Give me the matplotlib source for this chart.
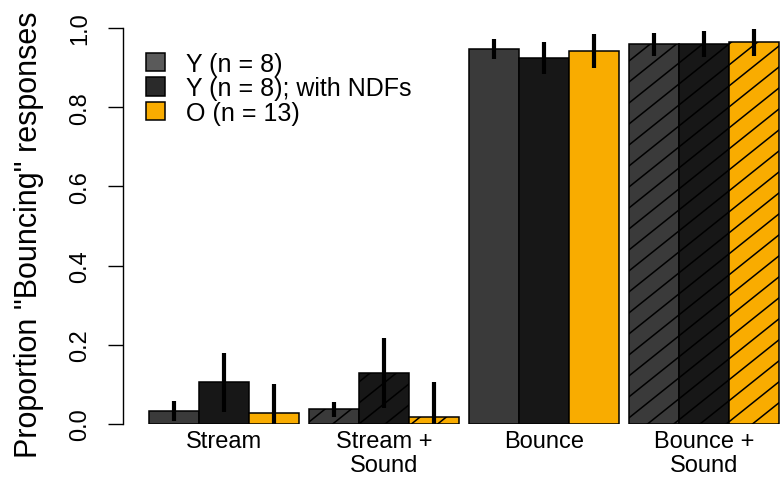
import numpy as np
import matplotlib
matplotlib.use("Agg")
from matplotlib import pyplot as plt
from matplotlib.patches import Patch

plt.rcParams['font.family'] = ['Liberation Sans', 'DejaVu Sans']

# data
conditions = ['Stream', 'Stream +\nSound', 'Bounce', 'Bounce +\nSound']
hatched = [False, True, False, True]
groups = ['Y (n = 8)', 'Y (n = 8); with NDFs', 'O (n = 13)']

y_mean = [0.033, 0.038, 0.947, 0.960]
ndf_mean = [0.106, 0.130, 0.924, 0.960]
o_mean = [0.028, 0.018, 0.942, 0.965]

y_lo = [0.007, 0.018, 0.922, 0.930]
y_hi = [0.057, 0.055, 0.972, 0.987]
ndf_lo = [0.030, 0.040, 0.884, 0.927]
ndf_hi = [0.180, 0.217, 0.965, 0.992]
o_lo = [0.0, 0.0, 0.900, 0.930]
o_hi = [0.100, 0.105, 0.985, 0.997]

bar_cols = ['#3a3a3a', '#171717', '#F9AC00']
leg_cols = ['#5a5a5a', '#2a2a2a', '#F9AC00']

means = [y_mean, ndf_mean, o_mean]
los = [y_lo, ndf_lo, o_lo]
his = [y_hi, ndf_hi, o_hi]

fig = plt.figure(figsize=(7.84, 4.85), dpi=100)
ax = fig.add_axes([123/784, 60/485, (784-123)/784, 396/485])

step = 3.2
slope = 0.101   # hatch slope (data y per bar width)
spacing = 0.053  # vertical spacing of hatch lines

for g in range(len(conditions)):
    for j in range(3):
        left = g*step + j
        h = means[j][g]
        bars = ax.bar(left, h, width=1.0, align='edge', color=bar_cols[j],
                      edgecolor='black', linewidth=1.1, zorder=2)
        if hatched[g]:
            rect = bars[0]
            xs = np.array([left, left + 1])
            c0 = np.floor((-slope*(left+1)) / spacing) * spacing
            for c in np.arange(c0, h - slope*left + spacing, spacing):
                ln, = ax.plot(xs, slope*xs + c, color='black', lw=1.1, zorder=3)
                ln.set_clip_path(rect)
        ax.plot([left + 0.5, left + 0.5], [los[j][g], his[j][g]], color='black',
                lw=3, solid_capstyle='butt', zorder=4, clip_on=False)

ax.set_xlim(-0.52, 12.7)
ax.set_ylim(0, 1)
for s in ['top', 'right', 'bottom']:
    ax.spines[s].set_visible(False)
ax.spines['left'].set_bounds(0, 1)
ax.spines['left'].set_linewidth(1.0)

ax.set_yticks([0, 0.2, 0.4, 0.6, 0.8, 1.0])
ax.set_yticklabels(['0.0', '0.2', '0.4', '0.6', '0.8', '1.0'], rotation=90, va='center')
ax.tick_params(axis='y', length=11, width=1.0, pad=12, labelsize=17)
ax.set_ylabel('Proportion "Bouncing" responses', fontsize=22)
ax.yaxis.set_label_coords(-0.12, 0.48)

ax.set_xticks([g*step + 1.5 for g in range(len(conditions))])
ax.set_xticklabels(conditions, fontsize=17, linespacing=1.15)
ax.tick_params(axis='x', length=0, pad=4)

handles = [Patch(facecolor=leg_cols[j], edgecolor='black', linewidth=1.1) for j in range(3)]
ax.legend(handles, groups, loc='upper left', bbox_to_anchor=(0.02, 0.965),
          frameon=False, fontsize=18, handlelength=0.75, handleheight=0.75,
          handletextpad=0.85, labelspacing=0.02, borderaxespad=0)

fig.savefig('out.png', dpi=100)
